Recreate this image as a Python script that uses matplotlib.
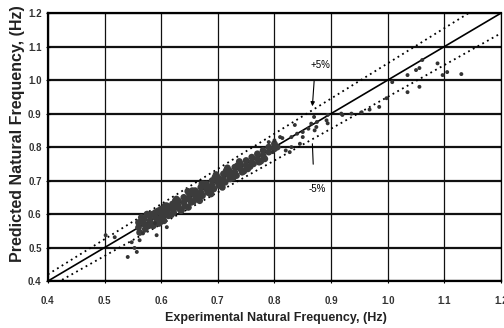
import matplotlib.pyplot as plt

# dense band of measurements (experimental, predicted)
band_x = [0.56, 0.56, 0.562, 0.565, 0.57, 0.57, 0.572, 0.575, 0.578, 0.58, 0.58, 0.583, 0.585,
          0.59, 0.59, 0.592, 0.595, 0.598, 0.60, 0.60, 0.603, 0.605, 0.608, 0.61, 0.61, 0.613,
          0.615, 0.62, 0.62, 0.622, 0.625, 0.628, 0.63, 0.63, 0.633, 0.635, 0.64, 0.64, 0.642,
          0.645, 0.648, 0.65, 0.65, 0.653, 0.655, 0.66, 0.66, 0.662, 0.665, 0.668, 0.67, 0.67,
          0.673, 0.675, 0.68, 0.68, 0.682, 0.685, 0.688, 0.69, 0.69, 0.693, 0.695, 0.70, 0.70,
          0.702, 0.705, 0.708, 0.71, 0.71, 0.713, 0.715, 0.72, 0.72, 0.722, 0.725, 0.73, 0.73,
          0.733, 0.735, 0.74, 0.74, 0.743, 0.75, 0.75, 0.753, 0.76, 0.76, 0.763, 0.77, 0.77,
          0.773, 0.78, 0.78, 0.783, 0.79, 0.79, 0.80, 0.80, 0.805,
          0.607, 0.627, 0.647, 0.672, 0.697, 0.717, 0.738, 0.586, 0.618, 0.657, 0.686, 0.727,
          0.757, 0.776, 0.566, 0.596, 0.636, 0.666, 0.706, 0.746]
band_y = [0.56, 0.575, 0.545, 0.59, 0.57, 0.585, 0.555, 0.60, 0.565, 0.58, 0.595, 0.57, 0.60,
          0.59, 0.605, 0.575, 0.61, 0.585, 0.60, 0.615, 0.59, 0.58, 0.605, 0.61, 0.625, 0.595,
          0.62, 0.615, 0.63, 0.605, 0.64, 0.62, 0.625, 0.64, 0.615, 0.61, 0.635, 0.65, 0.625,
          0.645, 0.62, 0.645, 0.66, 0.635, 0.67, 0.655, 0.67, 0.645, 0.66, 0.64, 0.665, 0.68,
          0.655, 0.69, 0.675, 0.69, 0.665, 0.68, 0.66, 0.685, 0.70, 0.675, 0.71, 0.695, 0.71,
          0.685, 0.70, 0.68, 0.705, 0.72, 0.695, 0.73, 0.715, 0.73, 0.705, 0.72, 0.725, 0.74,
          0.715, 0.745, 0.735, 0.75, 0.725, 0.745, 0.76, 0.735, 0.755, 0.77, 0.75, 0.765, 0.78,
          0.755, 0.775, 0.79, 0.765, 0.785, 0.80, 0.795, 0.81, 0.80,
          0.625, 0.645, 0.668, 0.69, 0.718, 0.738, 0.757, 0.565, 0.598, 0.638, 0.662, 0.708,
          0.742, 0.758, 0.58, 0.572, 0.612, 0.648, 0.69, 0.728]

# scattered points outside the band
pts_x = [0.502, 0.518, 0.541, 0.557, 0.553, 0.548, 0.562, 0.568, 0.592, 0.61, 0.589,
         0.80, 0.81, 0.79, 0.83, 0.84, 0.85, 0.86, 0.865, 0.87, 0.875, 0.82, 0.83, 0.845,
         0.797, 0.814, 0.827, 0.836, 0.85, 0.871, 0.874, 0.892, 0.894, 0.894, 0.918, 0.92,
         0.936, 0.954, 0.968, 0.985, 0.998, 1.008, 1.035, 1.035, 1.05, 1.056, 1.056, 1.061,
         1.088, 1.097, 1.105, 1.13]
pts_y = [0.537, 0.531, 0.472, 0.487, 0.499, 0.516, 0.522, 0.543, 0.537, 0.561, 0.573,
         0.82, 0.83, 0.815, 0.83, 0.84, 0.845, 0.855, 0.87, 0.89, 0.875, 0.79, 0.80, 0.81,
         0.785, 0.827, 0.785, 0.866, 0.83, 0.85, 0.86, 0.88, 0.896, 0.871, 0.90, 0.896,
         0.90, 0.904, 0.912, 0.92, 0.946, 0.994, 1.015, 0.964, 1.03, 1.036, 0.98, 1.06,
         1.05, 1.015, 1.024, 1.018]

line_x = [0.4, 1.2]
ticks = [0.4, 0.5, 0.6, 0.7, 0.8, 0.9, 1.0, 1.1, 1.2]

plt.rcParams['font.family'] = ['Liberation Sans', 'DejaVu Sans']

fig = plt.figure(figsize=(5.04, 3.28), dpi=100)
ax = fig.add_axes([0.095, 0.143, 0.899, 0.817])

ax.set_xlim(0.4, 1.2)
ax.set_ylim(0.4, 1.2)
ax.set_xticks(ticks)
ax.set_yticks(ticks)
ax.set_xticklabels(["%.1f" % t for t in ticks], fontsize=7, fontweight='bold', color='#333333')
ax.set_yticklabels(["%.1f" % t for t in ticks], fontsize=7, fontweight='bold', color='#333333')
ax.tick_params(axis='x', length=3, width=0.8, pad=9, direction='inout')
ax.tick_params(axis='y', length=3, width=0.8, pad=3, direction='inout')

# grid: heavy horizontal, thin vertical
ax.yaxis.grid(True, color='#111111', linewidth=1.6)
ax.xaxis.grid(True, color='#111111', linewidth=0.9)
ax.set_axisbelow(True)
for s in ['left', 'bottom', 'top']:
    ax.spines[s].set_linewidth(1.6)
ax.spines['right'].set_linewidth(0.9)

# 1:1 line and +/-5% bounds
ax.plot(line_x, line_x, color='black', linewidth=1.2)
ax.plot(line_x, [v * 1.05 for v in line_x], color='black', linewidth=1.3, linestyle=(0, (1, 2)))
ax.plot(line_x, [v * 0.95 for v in line_x], color='black', linewidth=1.3, linestyle=(0, (1, 2)))

ax.scatter(band_x, band_y, s=24, color='#3c3c3c', edgecolors='none', zorder=3)
ax.scatter(pts_x, pts_y, s=8, color='#333333', edgecolors='none', zorder=3)

ax.annotate("+5%", xy=(0.867, 0.922), xytext=(0.882, 1.045), fontsize=7, ha='center', va='center',
            arrowprops=dict(arrowstyle='-|>', color='black', lw=0.8, mutation_scale=6,
                            shrinkA=6, shrinkB=0, relpos=(0.2, 0.0)))
ax.annotate("-5%", xy=(0.867, 0.81), xytext=(0.876, 0.676), fontsize=7, ha='center', va='center',
            arrowprops=dict(arrowstyle='-', color='black', lw=0.8,
                            shrinkA=12, shrinkB=0, relpos=(0.3, 1.0)))

fig.text(0.548, 0.03, "Experimental Natural Frequency, (Hz)", fontsize=9, fontweight='bold',
         ha='center', va='center', color='#222222')
fig.text(0.035, 1 - 262 / 328, "Predicted Natural Frequency, (Hz)", fontsize=11.5, fontweight='bold',
         rotation=90, ha='center', va='bottom', color='#222222')

fig.savefig("out.png", dpi=100)
